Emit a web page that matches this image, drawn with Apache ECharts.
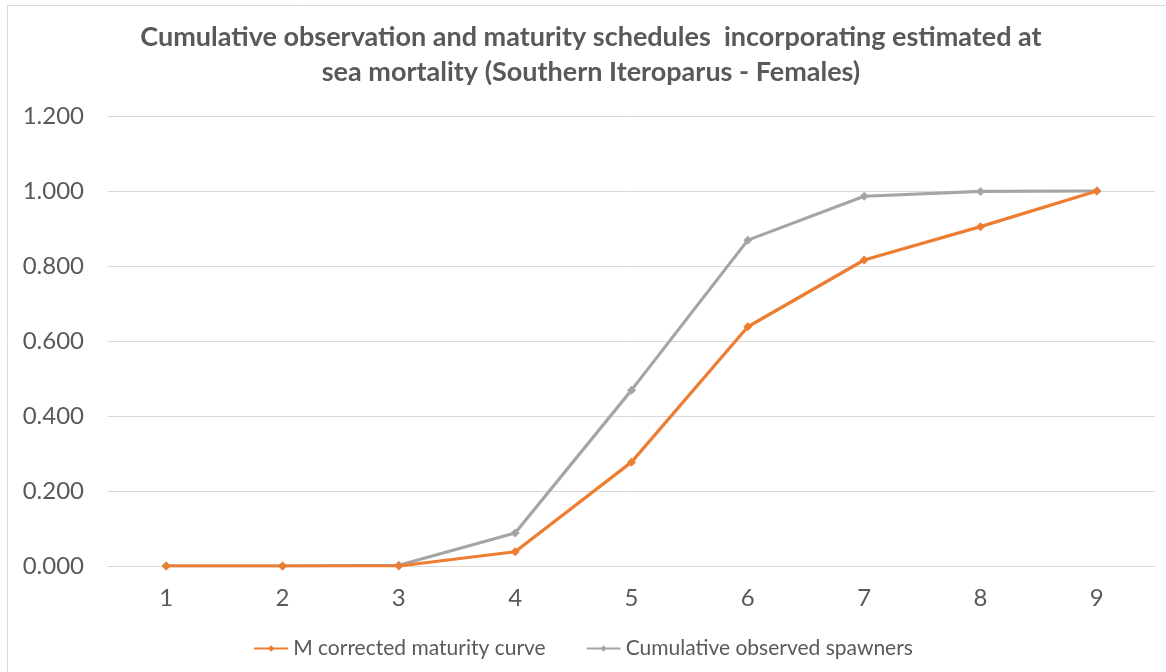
<!DOCTYPE html>
<html><head><meta charset="utf-8">
<script src="https://cdn.jsdelivr.net/npm/echarts@6/dist/echarts.min.js"></script>
<style>html,body{margin:0;padding:0;background:#fff}#c{width:1166px;height:672px}</style>
</head><body><div id="c"></div>
<script>
const categories = ['1','2','3','4','5','6','7','8','9'];
const mCorrected = [0, 0, 0, 0.038, 0.277, 0.638, 0.816, 0.905, 1.0];
const cumulativeObserved = [0, 0, 0.002, 0.088, 0.469, 0.869, 0.986, 0.999, 1.0];
const seriesNames = ['M corrected maturity curve', 'Cumulative observed spawners'];
const titleText = 'Cumulative observation and maturity schedules  incorporating estimated at\nsea mortality (Southern Iteroparus - Females)';

const chart = echarts.init(document.getElementById('c'), null, {renderer:'canvas'});
const font = 'Lato, "Open Sans", sans-serif';
chart.setOption({
  animation: false,
  backgroundColor: '#fff',
  title: {
    text: titleText, left: 586, top: 15, textAlign: 'center',
    textStyle: {fontFamily: font, fontWeight: 'bold', fontSize: 27, color: '#595959', lineHeight: 35}
  },
  graphic: [{type:'rect', shape:{x:7.5,y:5.5,width:1170,height:680}, style:{fill:'none', stroke:'#d9d9d9', lineWidth:1}, silent:true}],
  legend: {
    bottom: 8, left: 'center', itemGap: 40, itemWidth: 34, itemHeight: 8,
    textStyle: {fontFamily: font, fontSize: 21, color: '#595959'},
    data: seriesNames
  },
  grid: {left: 108, right: 11, top: 116, bottom: 106},
  xAxis: {
    type: 'category', data: categories, boundaryGap: true,
    axisLine: {lineStyle: {color: '#d9d9d9'}}, axisTick: {show: false},
    axisLabel: {fontFamily: font, fontSize: 24, color: '#595959', margin: 20}
  },
  yAxis: {
    type: 'value', min: 0, max: 1.2, interval: 0.2,
    axisLine: {show: false}, axisTick: {show: false},
    splitLine: {lineStyle: {color: '#d9d9d9'}},
    axisLabel: {fontFamily: font, fontSize: 24, color: '#595959', margin: 24, formatter: v => v.toFixed(3)}
  },
  series: [
    {name: seriesNames[0], type: 'line', data: mCorrected, color: '#ED7D31',
     symbol: 'diamond', symbolSize: 9, lineStyle: {width: 3.2, color:'#ED7D31'}, itemStyle:{color:'#ED7D31'}, z: 3},
    {name: seriesNames[1], type: 'line', data: cumulativeObserved, color: '#A5A5A5',
     symbol: 'diamond', symbolSize: 9, lineStyle: {width: 3.2, color:'#A5A5A5'}, itemStyle:{color:'#A5A5A5'}, z: 2}
  ]
});
</script></body></html>
